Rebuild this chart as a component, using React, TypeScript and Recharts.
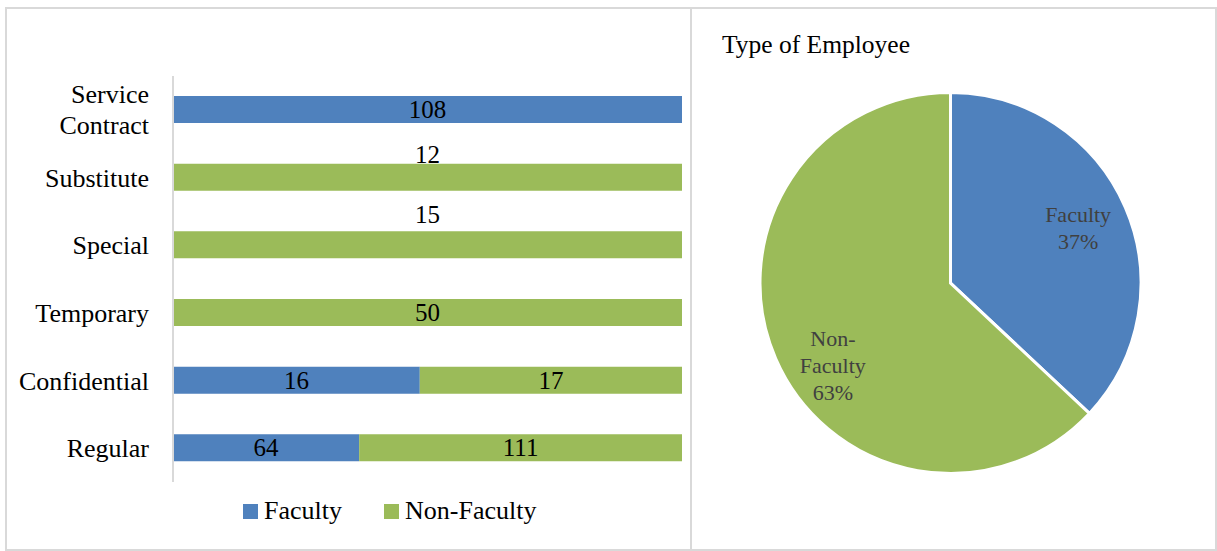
import { Bar, BarChart, LabelList, Pie, PieChart, Cell, XAxis, YAxis } from 'recharts'

const categories = ['Service Contract', 'Substitute', 'Special', 'Temporary', 'Confidential', 'Regular']
const faculty = [108, 0, 0, 0, 16, 64]
const nonFaculty = [0, 12, 15, 50, 17, 111]

const pieNames = ['Faculty', 'Non-Faculty']
const pieShares = [37, 63]

const BLUE = '#4F81BD'
const GREEN = '#9BBB59'
const GRID = '#d9d9d9'
const FONT = "'Liberation Serif', 'Times New Roman', serif"

// excel pushed a couple of labels above their bars
const LABEL_SHIFT: Record<string, number> = { Substitute: -23, Special: -30 }
const PIE_LABEL_NUDGE: Record<string, [number, number]> = { 'Non-Faculty': [10, 27] }

const barData = categories.map((name, i) => ({ name, faculty: faculty[i], nonFaculty: nonFaculty[i] }))
const pieData = pieNames.map((name, i) => ({ name, value: pieShares[i] }))

function CategoryTick(props: any) {
  const { x, y, payload } = props
  const words: string[] = String(payload.value).split(' ')
  const lh = 31
  const top = y - ((words.length - 1) * lh) / 2
  return (
    <text x={x} y={y} textAnchor="end" fontSize={26} fontFamily={FONT} fill="#000" dominantBaseline="central">
      {words.map((w, i) => (
        <tspan key={i} x={x} y={top + i * lh} dominantBaseline="central">
          {w}
        </tspan>
      ))}
    </text>
  )
}

// label value comes in as "category|count" so the shift can be looked up by name
const barLabel = (props: any) => {
  const { x, y, width, height, value } = props
  const [cat, num] = String(value).split('|')
  if (!Number(num)) return null
  const shift = LABEL_SHIFT[cat] ?? 0
  return (
    <text
      x={x + width / 2}
      y={y + height / 2 + shift}
      textAnchor="middle"
      dominantBaseline="central"
      fontSize={25}
      fontFamily={FONT}
      fill="#000"
    >
      {num}
    </text>
  )
}

const RADIAN = Math.PI / 180

function pieLabel(props: any) {
  const { cx, cy, midAngle, outerRadius, name, percent } = props
  const r = outerRadius * 0.73
  const [nx, ny] = PIE_LABEL_NUDGE[name] ?? [0, 0]
  const lx = cx + r * Math.cos(-midAngle * RADIAN) + nx
  const ly = cy + r * Math.sin(-midAngle * RADIAN) + ny
  const parts: string[] = name.includes('-') ? [name.split('-')[0] + '-', name.split('-').slice(1).join('-')] : [name]
  const lines = [...parts, `${Math.round(percent * 100)}%`]
  const lh = 27
  const top = ly - ((lines.length - 1) * lh) / 2
  return (
    <text x={lx} y={ly} textAnchor="middle" fontSize={22} fontFamily={FONT} fill="#404040">
      {lines.map((l, i) => (
        <tspan key={i} x={lx} y={top + i * lh} dominantBaseline="central">
          {l}
        </tspan>
      ))}
    </text>
  )
}

export default function App() {
  return (
    <div style={{ position: 'absolute', left: 0, top: 0, width: 1217, height: 551, background: '#fff', fontFamily: FONT }}>
      <div
        style={{
          position: 'absolute',
          left: 5,
          top: 7,
          width: 1212,
          height: 544,
          border: `2px solid ${GRID}`,
          boxSizing: 'border-box',
        }}
      />
      <div style={{ position: 'absolute', left: 690, top: 7, width: 2, height: 544, background: GRID }} />

      <div style={{ position: 'absolute', left: 0, top: 0 }}>
        <BarChart
          width={690}
          height={551}
          data={barData}
          layout="vertical"
          stackOffset="expand"
          margin={{ top: 76, right: 8, bottom: 69, left: 0 }}
        >
          <XAxis type="number" hide domain={[0, 1]} />
          <YAxis
            type="category"
            dataKey="name"
            width={173}
            interval={0}
            tickLine={false}
            tickSize={0}
            tickMargin={24}
            axisLine={{ stroke: GRID, strokeWidth: 2 }}
            tick={<CategoryTick />}
          />
          <Bar dataKey="faculty" stackId="a" fill={BLUE} barSize={27} isAnimationActive={false}>
            <LabelList dataKey={(d: any) => `${d.name}|${d.faculty}`} content={barLabel} />
          </Bar>
          <Bar dataKey="nonFaculty" stackId="a" fill={GREEN} barSize={27} isAnimationActive={false}>
            <LabelList dataKey={(d: any) => `${d.name}|${d.nonFaculty}`} content={barLabel} />
          </Bar>
        </BarChart>
      </div>

      <div style={{ position: 'absolute', left: 243, top: 497, display: 'flex', alignItems: 'center', fontSize: 26, color: '#000' }}>
        {[
          { name: 'Faculty', color: BLUE },
          { name: 'Non-Faculty', color: GREEN },
        ].map((s, i) => (
          <div key={s.name} style={{ display: 'flex', alignItems: 'center', marginLeft: i ? 42 : 0 }}>
            <span style={{ width: 15, height: 15, background: s.color, display: 'inline-block', marginRight: 6 }} />
            <span style={{ lineHeight: '28px' }}>{s.name}</span>
          </div>
        ))}
      </div>

      <div style={{ position: 'absolute', left: 722, top: 29, fontSize: 25.5, color: '#000', lineHeight: '32px' }}>
        Type of Employee
      </div>

      <div style={{ position: 'absolute', left: 691, top: 0 }}>
        <PieChart width={526} height={551} margin={{ top: 0, right: 0, bottom: 0, left: 0 }}>
          <Pie
            data={pieData}
            dataKey="value"
            nameKey="name"
            cx={259.5}
            cy={283}
            outerRadius={190.5}
            startAngle={90}
            endAngle={-270}
            stroke="#fff"
            strokeWidth={3}
            label={pieLabel}
            labelLine={false}
            isAnimationActive={false}
          >
            {pieData.map((d, i) => (
              <Cell key={d.name} fill={i === 0 ? BLUE : GREEN} />
            ))}
          </Pie>
        </PieChart>
      </div>
    </div>
  )
}
